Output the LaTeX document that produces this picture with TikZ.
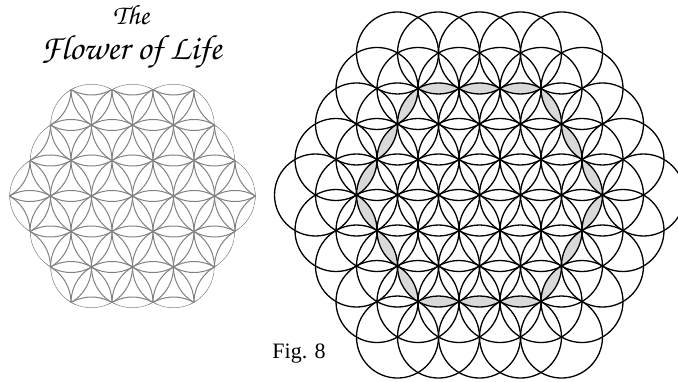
\documentclass[tikz,border=0pt]{standalone}
\usepackage[T1]{fontenc}
\usepackage{fontspec}
\setmainfont{Liberation Serif}
\newfontfamily\figfont{Liberation Serif}
\newcommand\chancery{\fontencoding{T1}\fontfamily{pzc}\fontseries{mb}\fontshape{it}\selectfont}

\begin{document}
\begin{tikzpicture}[
    x=1pt, y=-1pt,
    ring/.style={line width=1pt, draw=black!50},
    bold/.style={line width=1.3pt, draw=black},
    petal/.style={fill=black!15},
    script/.style={font=\chancery\fontsize{#1}{#1}\selectfont, inner sep=0pt},
  ]
    \def\s{41}
    \def\h{35.507}
    \useasboundingbox (0,0) rectangle (678,382);
    \coordinate (lc) at (132.5,196);
    \coordinate (rc) at (479.5,195);

    \node[script=28] (the) at (131,15) {The};
    \node[script=35] (flower) at (131,52) {Flower of Life};

    \begin{scope}[shift={(lc)}]
      \clip \foreach \j/\m in {-2/1,-1/1.5,0/2,1/1.5,2/1} {
        \foreach \i in {-\m,...,\m} { (\i*\s, \j*\h) circle (\s) }
      };
      \foreach \j in {-4,...,4} {
        \pgfmathsetmacro\m{4-abs(\j)/2}
        \foreach \i in {-\m,...,\m}
          \draw[ring] (\i*\s, \j*\h) circle (\s);
      }
    \end{scope}

    \foreach \k in {0,...,5}
      \foreach \i in {0,1,2} {
        \begin{scope}[shift={(rc)}, rotate=60*\k]
          \clip ({(3.5-\i/2)*\s}, {(\i+1)*\h}) circle (\s);
          \fill[petal] ({(2-\i/2)*\s}, {\i*\h}) circle (\s);
        \end{scope}
      }

    \begin{scope}[shift={(rc)}]
      \foreach \j in {-4,...,4} {
        \pgfmathsetmacro\m{4-abs(\j)/2}
        \foreach \i in {-\m,...,\m}
          \draw[bold] (\i*\s, \j*\h) circle (\s);
      }
    \end{scope}

    \node[anchor=base, font=\figfont\fontsize{22}{22}\selectfont, inner sep=0pt] (fig) at (299,359) {Fig. 8};
  \end{tikzpicture}
\end{document}
